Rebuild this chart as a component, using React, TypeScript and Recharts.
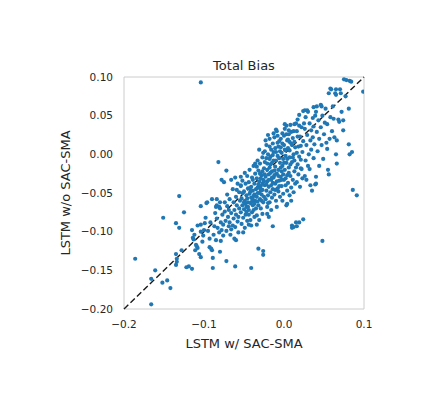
import React from "react";
import {
  ScatterChart,
  Scatter,
  XAxis,
  YAxis,
  ReferenceLine,
  ReferenceArea,
} from "recharts";

// [LSTM w/ SAC-SMA, LSTM w/o SAC-SMA]
const outliers: number[][] = [
  [-0.104, 0.093], [-0.082, -0.010], [-0.072, -0.021], [-0.078, -0.033],
  [0.048, -0.112], [0.086, -0.046], [0.091, -0.053], [0.082, 0.0],
];

const lowerTail: number[][] = [
  [-0.186, -0.135], [-0.166, -0.194], [-0.161, -0.150], [-0.166, -0.161],
  [-0.152, -0.166], [-0.146, -0.163], [-0.142, -0.173], [-0.135, -0.129],
  [-0.134, -0.135], [-0.134, -0.139], [-0.135, -0.143], [-0.128, -0.124],
  [-0.122, -0.146], [-0.119, -0.145], [-0.115, -0.148], [-0.113, -0.110],
  [-0.110, -0.117], [-0.111, -0.124], [-0.106, -0.129], [-0.104, -0.133],
  [-0.108, -0.121], [-0.102, -0.113], [-0.101, -0.105], [-0.114, -0.108],
  [-0.109, -0.119], [-0.093, -0.120], [-0.090, -0.124], [-0.089, -0.134],
  [-0.089, -0.147], [-0.072, -0.138], [-0.061, -0.145], [-0.041, -0.147],
  [-0.085, -0.111], [-0.060, -0.111], [-0.091, -0.122], [-0.080, -0.126],
  [-0.032, -0.122], [-0.026, -0.125], [-0.026, -0.130],
];

const leftWing: number[][] = [
  [-0.131, -0.054], [-0.151, -0.082], [-0.125, -0.075], [-0.135, -0.089],
  [-0.131, -0.095], [-0.104, -0.067], [-0.115, -0.098], [-0.104, -0.100],
  [-0.097, -0.063], [-0.108, -0.092], [-0.112, -0.104], [-0.104, -0.091],
  [-0.099, -0.089], [-0.090, -0.058], [-0.096, -0.062], [-0.084, -0.058],
  [-0.085, -0.068], [-0.081, -0.068], [-0.075, -0.036], [-0.066, -0.033],
  [-0.059, -0.046], [-0.054, -0.040],
];

const coreLow: number[][] = [
  [-0.098, -0.082], [-0.095, -0.099], [-0.092, -0.088], [-0.088, -0.104],
  [-0.087, -0.093], [-0.093, -0.109], [-0.086, -0.076], [-0.100, -0.098],
  [-0.084, -0.083], [-0.083, -0.095], [-0.081, -0.101], [-0.080, -0.070],
  [-0.079, -0.088], [-0.078, -0.098], [-0.077, -0.078], [-0.076, -0.105],
  [-0.080, -0.062], [-0.076, -0.091], [-0.084, -0.066], [-0.079, -0.112],
  [-0.074, -0.074], [-0.073, -0.086], [-0.072, -0.099], [-0.071, -0.067],
  [-0.070, -0.081], [-0.069, -0.093], [-0.068, -0.058], [-0.067, -0.104],
  [-0.066, -0.076], [-0.071, -0.052], [-0.068, -0.088], [-0.074, -0.062],
  [-0.066, -0.097], [-0.069, -0.072], [-0.064, -0.045], [-0.063, -0.062],
  [-0.063, -0.083], [-0.062, -0.109], [-0.062, -0.072], [-0.061, -0.094],
  [-0.060, -0.055], [-0.060, -0.078], [-0.059, -0.066], [-0.058, -0.087],
  [-0.058, -0.038], [-0.057, -0.101], [-0.056, -0.070], [-0.056, -0.049],
  [-0.064, -0.092], [-0.061, -0.030], [-0.057, -0.081], [-0.055, -0.060],
  [-0.054, -0.041], [-0.054, -0.075], [-0.053, -0.057], [-0.053, -0.090],
  [-0.052, -0.034], [-0.052, -0.066], [-0.051, -0.082], [-0.050, -0.048],
  [-0.050, -0.071], [-0.049, -0.060], [-0.049, -0.095], [-0.048, -0.038],
  [-0.048, -0.078], [-0.047, -0.053], [-0.047, -0.068], [-0.046, -0.028],
  [-0.046, -0.086], [-0.045, -0.044], [-0.045, -0.062], [-0.054, -0.029],
  [-0.051, -0.101], [-0.049, -0.024], [-0.046, -0.057], [-0.052, -0.050],
  [-0.048, -0.064], [-0.044, -0.091], [-0.034, -0.091], [-0.014, -0.093],
];

const coreMid: number[][] = [
  [-0.044, -0.036], [-0.044, -0.072], [-0.043, -0.051], [-0.043, -0.020],
  [-0.042, -0.063], [-0.042, -0.085], [-0.041, -0.042], [-0.041, -0.056],
  [-0.040, -0.030], [-0.040, -0.075], [-0.039, -0.047], [-0.039, -0.066],
  [-0.038, -0.015], [-0.038, -0.054], [-0.037, -0.038], [-0.037, -0.081],
  [-0.036, -0.060], [-0.036, -0.025], [-0.035, -0.045], [-0.035, -0.070],
  [-0.044, -0.078], [-0.041, -0.092], [-0.039, -0.033], [-0.037, -0.052],
  [-0.036, -0.012], [-0.043, -0.044], [-0.040, -0.061], [-0.038, -0.072],
  [-0.034, -0.079], [-0.031, -0.085], [-0.027, -0.077], [-0.034, -0.031],
  [-0.034, -0.055], [-0.033, -0.008], [-0.033, -0.043], [-0.032, -0.066],
  [-0.032, -0.021], [-0.031, -0.050], [-0.031, -0.035], [-0.030, -0.058],
  [-0.030, -0.012], [-0.029, -0.041], [-0.029, -0.070], [-0.028, -0.027],
  [-0.028, -0.052], [-0.027, -0.004], [-0.027, -0.046], [-0.026, -0.062],
  [-0.026, -0.033], [-0.025, -0.018], [-0.025, -0.055], [-0.034, -0.016],
  [-0.033, -0.061], [-0.030, -0.025], [-0.029, -0.047], [-0.027, -0.038],
  [-0.026, 0.002], [-0.031, 0.006], [-0.028, -0.060], [-0.021, -0.077],
  [-0.019, -0.081], [-0.021, -0.068], [-0.016, -0.072], [-0.024, -0.040],
  [-0.024, -0.010], [-0.023, -0.029], [-0.023, -0.058], [-0.022, -0.047],
  [-0.022, 0.012], [-0.021, -0.020], [-0.021, -0.035], [-0.020, -0.053],
  [-0.020, 0.000], [-0.019, -0.042], [-0.019, -0.026], [-0.018, -0.062],
  [-0.018, 0.020], [-0.017, -0.013], [-0.017, -0.049], [-0.016, -0.033],
  [-0.016, 0.006], [-0.015, -0.056], [-0.015, -0.022], [-0.024, 0.004],
  [-0.023, 0.018], [-0.020, 0.025], [-0.018, 0.010], [-0.022, -0.005],
  [-0.017, -0.003], [-0.016, -0.040], [-0.020, -0.063], [-0.018, -0.017],
  [-0.014, -0.045], [-0.014, 0.014], [-0.013, -0.030], [-0.013, -0.008],
  [-0.012, -0.052], [-0.012, 0.022], [-0.011, -0.038], [-0.011, -0.016],
  [-0.010, 0.003], [-0.010, -0.060], [-0.009, -0.025], [-0.009, 0.030],
  [-0.008, -0.044], [-0.008, -0.002], [-0.007, -0.020], [-0.007, 0.010],
  [-0.006, -0.034], [-0.006, 0.017], [-0.005, -0.055], [-0.005, -0.011],
  [-0.013, 0.027], [-0.011, 0.008], [-0.009, -0.068], [-0.008, 0.024],
  [-0.006, -0.005], [-0.012, -0.021], [-0.010, 0.032], [-0.014, -0.001],
  [-0.007, -0.048], [-0.004, -0.029], [-0.004, 0.020], [-0.003, -0.041],
  [-0.003, 0.002], [-0.002, -0.015], [-0.002, 0.027], [-0.001, -0.051],
  [-0.001, -0.006], [0.000, 0.012], [0.000, -0.033], [0.001, -0.020],
  [0.001, 0.033], [0.002, -0.040], [0.002, 0.005], [0.003, -0.066],
  [0.003, -0.011], [0.004, 0.018], [0.004, -0.027], [-0.004, 0.009],
  [-0.002, -0.060], [0.000, 0.024], [0.002, -0.002], [0.004, -0.047],
  [0.003, 0.037], [-0.003, -0.022], [0.001, 0.039],
];

const coreDense: number[][] = [
  [-0.032, -0.039], [-0.029, -0.031], [-0.027, -0.022], [-0.025, -0.035],
  [-0.024, -0.026], [-0.022, -0.039], [-0.021, -0.012], [-0.019, -0.033],
  [-0.018, -0.006], [-0.017, -0.024], [-0.015, -0.030], [-0.015, -0.011],
  [-0.014, -0.037], [-0.013, 0.003], [-0.012, -0.027], [-0.011, -0.046],
  [-0.010, -0.008], [-0.009, -0.035], [-0.008, 0.015], [-0.007, -0.028],
  [-0.006, -0.041], [-0.005, 0.004], [-0.004, -0.017], [-0.003, -0.033],
  [-0.002, 0.014], [-0.001, -0.026], [0.000, -0.011], [0.001, 0.006],
  [0.002, -0.031], [0.003, 0.026], [0.004, -0.006], [0.005, 0.019],
  [0.006, -0.024], [0.007, 0.005], [0.008, -0.013], [0.009, 0.029],
  [0.010, 0.012], [0.011, -0.004], [0.012, 0.030], [0.013, 0.016],
  [0.015, -0.017], [0.017, 0.023], [0.019, 0.037], [0.021, 0.011],
  [-0.039, -0.058], [-0.042, -0.048], [-0.045, -0.068], [-0.037, -0.064],
  [-0.033, -0.050], [-0.030, -0.044], [-0.047, -0.074], [-0.050, -0.062],
];

const coreHigh: number[][] = [
  [0.005, -0.037], [0.005, 0.008], [0.006, -0.017], [0.006, 0.026],
  [0.007, -0.053], [0.007, -0.004], [0.008, 0.038], [0.008, -0.028],
  [0.009, 0.014], [0.009, -0.043], [0.010, -0.092], [0.010, -0.010],
  [0.011, 0.021], [0.011, -0.033], [0.012, 0.000], [0.012, -0.049],
  [0.013, 0.039], [0.013, -0.022], [0.014, 0.009], [0.014, -0.038],
  [0.010, -0.095], [0.012, -0.094], [0.006, 0.031], [0.009, -0.060],
  [0.013, -0.008], [0.007, 0.016], [0.016, -0.093], [0.019, -0.088],
  [0.015, -0.088], [0.024, -0.084], [0.016, -0.036], [0.016, 0.030],
  [0.017, -0.013], [0.017, 0.045], [0.018, -0.026], [0.018, 0.010],
  [0.019, -0.003], [0.019, 0.051], [0.020, -0.042], [0.020, 0.023],
  [0.021, -0.018], [0.022, 0.035], [0.022, -0.019], [0.023, 0.003],
  [0.023, -0.031], [0.024, 0.056], [0.024, 0.017], [0.016, 0.002],
  [0.021, -0.007], [0.025, 0.040], [0.015, 0.040], [0.004, -0.064],
  [0.026, -0.028], [0.026, 0.033], [0.027, -0.008], [0.027, 0.048],
  [0.028, -0.033], [0.028, 0.012], [0.029, 0.025], [0.030, -0.015],
  [0.030, 0.055], [0.031, 0.000], [0.032, -0.019], [0.032, 0.040],
  [0.033, 0.018], [0.033, -0.040], [0.034, 0.031], [0.034, 0.006],
  [0.029, 0.057], [0.026, 0.057], [0.035, -0.047], [0.036, 0.047],
  [0.036, 0.022], [0.037, -0.005], [0.037, 0.036], [0.038, 0.013],
  [0.039, -0.039], [0.040, -0.029], [0.040, -0.038], [0.040, 0.055],
  [0.041, 0.029], [0.041, 0.062], [0.042, 0.004], [0.043, 0.044],
  [0.044, -0.015], [0.044, 0.020], [0.037, 0.061], [0.039, 0.050],
];

const upperRight: number[][] = [
  [0.046, 0.064], [0.047, 0.062], [0.046, 0.035], [0.047, 0.012],
  [0.048, 0.050], [0.049, -0.006], [0.050, 0.026], [0.051, 0.041],
  [0.052, 0.059], [0.053, 0.015], [0.054, 0.039], [0.054, 0.007],
  [0.055, -0.020], [0.056, -0.026], [0.056, 0.079], [0.057, 0.020],
  [0.058, 0.085], [0.058, 0.048], [0.059, 0.084], [0.060, 0.030],
  [0.061, 0.062], [0.062, 0.046], [0.063, 0.022], [0.064, 0.079],
  [0.065, 0.084], [0.065, 0.000], [0.066, -0.012], [0.065, 0.077],
  [0.066, 0.018], [0.068, 0.045], [0.069, 0.042], [0.070, 0.084],
  [0.071, 0.079], [0.072, 0.055], [0.074, 0.044], [0.074, 0.031],
  [0.075, 0.097], [0.078, 0.096], [0.082, 0.095], [0.084, 0.094],
  [0.081, 0.059], [0.081, 0.013], [0.085, 0.003], [0.099, 0.081],
  [0.077, 0.075],
];

const xTicks = [-0.2, -0.1, 0.0, 0.1];
const yTicks = [-0.2, -0.15, -0.1, -0.05, 0.0, 0.05, 0.1];

const points = [
  ...outliers,
  ...lowerTail,
  ...leftWing,
  ...coreLow,
  ...coreMid,
  ...coreDense,
  ...coreHigh,
  ...upperRight,
].map(([x, y]) => ({ x, y }));

const FONT = "'DejaVu Sans', sans-serif";
const TEXT = "#262626";

const fmt = (digits: number) => (v: number) => {
  const s = Math.abs(v).toFixed(digits);
  return v < -1e-9 ? "\u2212" + s : s;
};

const Dot = (p: any) => (
  <circle cx={p.cx} cy={p.cy} r={2.1} fill="#1f77b4" />
);

export default function App() {
  return (
    <div
      style={{
        position: "absolute",
        left: 0,
        top: 0,
        width: 432,
        height: 408,
        background: "#fff",
        fontFamily: FONT,
      }}
    >
      <ScatterChart
        width={432}
        height={408}
        margin={{ top: 77, right: 68, bottom: 69, left: 74 }}
      >
        <XAxis
          type="number"
          dataKey="x"
          domain={[-0.2, 0.1]}
          ticks={xTicks}
          tickFormatter={fmt(1)}
          axisLine={false}
          tickLine={false}
          tickSize={0}
          tickMargin={12}
          height={30}
          allowDataOverflow
          tick={{ fill: TEXT, fontSize: 10.5, fontFamily: FONT }}
        />
        <YAxis
          type="number"
          dataKey="y"
          domain={[-0.2, 0.1]}
          ticks={yTicks}
          tickFormatter={fmt(2)}
          axisLine={false}
          tickLine={false}
          tickSize={0}
          tickMargin={11}
          width={50}
          allowDataOverflow
          tick={{ fill: TEXT, fontSize: 10.5, fontFamily: FONT }}
        />
        <ReferenceArea
          x1={-0.2}
          x2={0.1}
          y1={-0.2}
          y2={0.1}
          fill="none"
          stroke="#cccccc"
          strokeWidth={1}
          fillOpacity={0}
        />
        <Scatter
          data={points}
          shape={Dot}
          isAnimationActive={false}
        />
        <ReferenceLine
          segment={[
            { x: -0.2, y: -0.2 },
            { x: 0.1, y: 0.1 },
          ]}
          stroke="#1a1a1a"
          strokeWidth={1.4}
          strokeDasharray="6 3"
          ifOverflow="visible"
        />
        <text
          x={244}
          y={70}
          textAnchor="middle"
          fill={TEXT}
          fontSize={13}
          fontFamily={FONT}
        >
          Total Bias
        </text>
        <text
          x={244}
          y={348}
          textAnchor="middle"
          fill={TEXT}
          fontSize={13}
          fontFamily={FONT}
        >
          LSTM w/ SAC-SMA
        </text>
        <text
          x={70}
          y={193}
          textAnchor="middle"
          fill={TEXT}
          fontSize={13}
          fontFamily={FONT}
          transform="rotate(-90 70 193)"
        >
          LSTM w/o SAC-SMA
        </text>
      </ScatterChart>
    </div>
  );
}
